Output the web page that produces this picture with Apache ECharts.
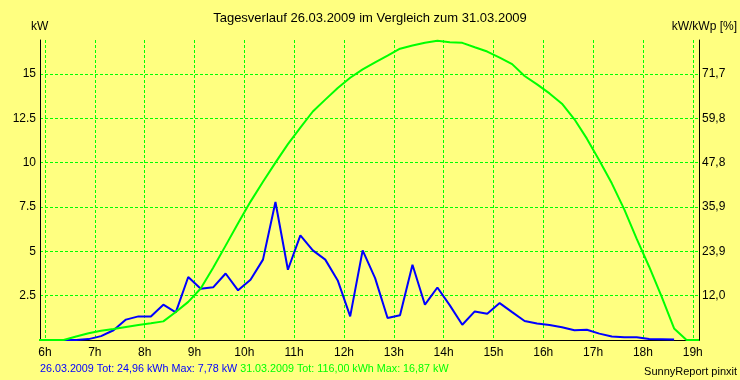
<!DOCTYPE html>
<html>
<head>
<meta charset="utf-8">
<script src="https://cdn.jsdelivr.net/npm/echarts@6/dist/echarts.min.js"></script>
<style>
html,body{margin:0;padding:0;background:#FFFF80;}
#c{width:740px;height:380px;}
</style>
</head>
<body>
<div id="c"></div>
<script>
// time of each 15-minute sample (hours)
var times = [5.875, 6.125, 6.375, 6.625, 6.875, 7.125, 7.375, 7.625, 7.875, 8.125, 8.375, 8.625, 8.875,
  9.125, 9.375, 9.625, 9.875, 10.125, 10.375, 10.625, 10.875, 11.125, 11.375, 11.625, 11.875,
  12.125, 12.375, 12.625, 12.875, 13.125, 13.375, 13.625, 13.875, 14.125, 14.375, 14.625, 14.875,
  15.125, 15.375, 15.625, 15.875, 16.125, 16.375, 16.625, 16.875, 17.125, 17.375, 17.625, 17.875,
  18.125, 18.375, 18.625, 18.875, 19.125];
// 26.03.2009 (kW)
var day1 = [null, null, 0, 0, 0.05, 0.22, 0.55, 1.15, 1.33, 1.33, 1.99, 1.56, 3.55,
  2.89, 2.97, 3.75, 2.80, 3.40, 4.53, 7.78, 3.96, 5.9, 5.05, 4.53, 3.36,
  1.33, 5.05, 3.49, 1.24, 1.39, 4.24, 1.99, 2.96, 1.95, 0.86, 1.61, 1.48,
  2.08, 1.57, 1.07, 0.93, 0.85, 0.72, 0.55, 0.58, 0.36, 0.2, 0.15, 0.15,
  0.05, 0.04, 0.03, null, null];
// 31.03.2009 (kW)
var day2 = [0, 0, 0, 0.2, 0.38, 0.52, 0.62, 0.73, 0.84, 0.94, 1.05, 1.58, 2.15,
  2.9, 4.07, 5.32, 6.58, 7.8, 8.92, 10.0, 11.04, 11.97, 12.88, 13.55, 14.2,
  14.78, 15.25, 15.65, 16.03, 16.42, 16.6, 16.76, 16.87, 16.78, 16.75, 16.5, 16.26,
  15.92, 15.55, 14.88, 14.41, 13.9, 13.32, 12.44, 11.35, 10.12, 8.83, 7.36, 5.7,
  4.13, 2.45, 0.65, 0, 0];
var hourTicks = [6, 7, 8, 9, 10, 11, 12, 13, 14, 15, 16, 17, 18, 19];
var yTicks = [2.5, 5, 7.5, 10, 12.5, 15];
var leftLabels = ['2.5', '5', '7.5', '10', '12.5', '15'];
var rightLabels = ['12,0', '23,9', '35,9', '47,8', '59,8', '71,7'];
var titleText = 'Tagesverlauf 26.03.2009 im Vergleich zum 31.03.2009';
var footer1 = '26.03.2009 Tot: 24,96 kWh Max: 7,78 kW';
var footer2 = '31.03.2009 Tot: 116,00 kWh Max: 16,87 kW';
var credit = 'SunnyReport pinxit';

var FONT = 'Liberation Sans, Arial, sans-serif';
function pairs(vals) {
  return times.map(function (t, i) { return [t, vals[i]]; });
}
function labelFor(list) {
  return function (v) {
    for (var i = 0; i < yTicks.length; i++) {
      if (Math.abs(yTicks[i] - v) < 1e-6) return list[i];
    }
    return '';
  };
}
var chart = echarts.init(document.getElementById('c'), null, {renderer: 'canvas'});
var grid = {left: 40, right: 41, top: 40, bottom: 40, show: false};
var YMAX = 16.91;
chart.setOption({
  backgroundColor: '#FFFF80',
  animation: false,
  grid: grid,
  xAxis: [{
    type: 'value', min: 5.9, max: 19.125, position: 'bottom',
    axisLine: {show: true, lineStyle: {color: '#000', width: 1}},
    axisTick: {show: false, customValues: hourTicks},
    axisLabel: {customValues: hourTicks, formatter: function (v) { return v + 'h'; },
      color: '#000', fontSize: 12, fontFamily: FONT, margin: 7},
    splitLine: {show: true, lineStyle: {color: '#00FF00', type: [3, 2], width: 1}}
  }, {
    type: 'value', min: 5.9, max: 19.125, position: 'top',
    axisLine: {show: true, lineStyle: {color: '#000', width: 1}},
    axisTick: {show: false}, axisLabel: {show: false}, splitLine: {show: false}
  }],
  yAxis: [{
    type: 'value', min: 0, max: YMAX, position: 'left',
    axisLine: {show: true, lineStyle: {color: '#000', width: 1}},
    axisTick: {show: false, customValues: yTicks},
    axisLabel: {customValues: yTicks, formatter: labelFor(leftLabels),
      color: '#000', fontSize: 12, fontFamily: FONT, margin: 4},
    splitLine: {show: true, lineStyle: {color: '#00FF00', type: [3, 2], width: 1}}
  }, {
    type: 'value', min: 0, max: YMAX, position: 'right',
    axisLine: {show: true, lineStyle: {color: '#000', width: 1}},
    axisTick: {show: false, customValues: yTicks},
    axisLabel: {customValues: yTicks, formatter: labelFor(rightLabels),
      color: '#000', fontSize: 12, fontFamily: FONT, margin: 3},
    splitLine: {show: false}
  }],
  series: [{
    type: 'line', data: pairs(day1), showSymbol: false, symbol: 'none',
    lineStyle: {color: '#0000FF', width: 2}, itemStyle: {color: '#0000FF'}, z: 3
  }, {
    type: 'line', data: pairs(day2), showSymbol: false, symbol: 'none',
    lineStyle: {color: '#00FF00', width: 2}, itemStyle: {color: '#00FF00'}, z: 4
  }],
  graphic: [
    {type: 'text', left: 'center', top: 12, style: {text: titleText, fill: '#000', font: '13px ' + FONT}},
    {type: 'text', left: 31, top: 21, style: {text: 'kW', fill: '#000', font: '12px ' + FONT}},
    {type: 'text', right: 3, top: 21, style: {text: 'kW/kWp [%]', fill: '#000', font: '12px ' + FONT}},
    {type: 'text', left: 40, top: 364, style: {
      text: '{b|' + footer1 + '} {g|' + footer2 + '}',
      font: '10.75px ' + FONT,
      rich: {b: {fill: '#0000FF', font: '10.75px ' + FONT}, g: {fill: '#00FF00', font: '10.75px ' + FONT}}
    }},
    {type: 'text', right: 3, top: 366, style: {text: credit, fill: '#000', font: '11px ' + FONT}}
  ]
});
</script>
</body>
</html>
